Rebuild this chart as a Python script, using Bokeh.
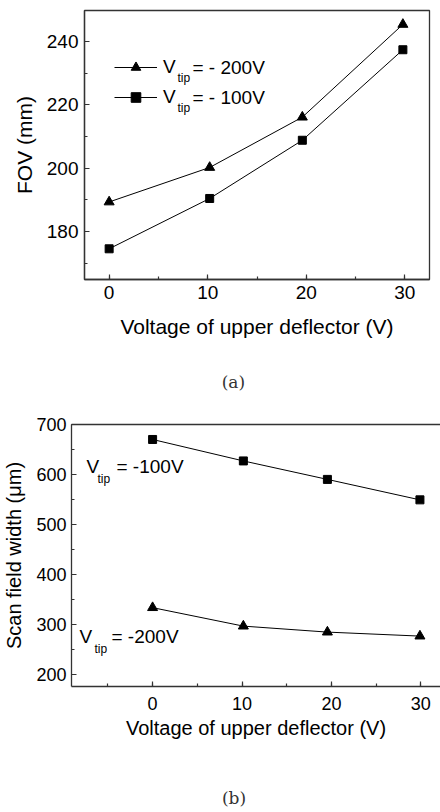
from bokeh.plotting import figure
from bokeh.models import (Range1d, SingleIntervalTicker, FixedTicker, LinearAxis,
                          Label, Legend, LegendItem)
from bokeh.embed import file_html
from bokeh.resources import INLINE

# ---------------- data ----------------
# (a) FOV vs voltage of upper deflector
voltage_a = [0, 10.2, 19.6, 29.8]
fov_tip200 = [189.3, 200.2, 216.1, 245.4]
fov_tip100 = [174.5, 190.4, 208.8, 237.4]

# (b) scan field width vs voltage of upper deflector
voltage_b = [0, 10.15, 19.55, 29.9]
scan_tip100 = [670, 627, 590, 549]
scan_tip200 = [333, 296, 284, 276]

FONT = "Liberation Sans"
SERIF = "DejaVu Serif"
AX = "#333333"

# horizontal anchor (x-axis units) of the sub-figure captions
CAPTION_X_A = 12.6
CAPTION_X_B = 9.1


def style_axis(ax, tick_px, label_px, label_standoff, axis_label_standoff):
    ax.axis_line_color = AX
    ax.axis_line_width = 1.3
    ax.major_tick_in = 5
    ax.major_tick_out = 0
    ax.minor_tick_in = 3
    ax.minor_tick_out = 0
    ax.major_tick_line_color = AX
    ax.minor_tick_line_color = AX
    ax.major_tick_line_width = 1.2
    ax.minor_tick_line_width = 1.2
    ax.major_label_text_font = FONT
    ax.major_label_text_font_size = tick_px
    ax.major_label_text_color = "black"
    ax.major_label_standoff = label_standoff
    ax.axis_label_text_font = FONT
    ax.axis_label_text_font_size = label_px
    ax.axis_label_text_font_style = "normal"
    ax.axis_label_text_color = "black"
    ax.axis_label_standoff = axis_label_standoff


def caption_axis(xpos, text, standoff):
    return LinearAxis(ticker=FixedTicker(ticks=[xpos]),
                      major_label_overrides={xpos: text},
                      axis_line_color=None, major_tick_line_color=None,
                      minor_tick_line_color=None, major_tick_in=0, major_tick_out=0,
                      minor_tick_in=0, minor_tick_out=0,
                      major_label_standoff=standoff,
                      major_label_text_font=SERIF,
                      major_label_text_font_size="17px",
                      major_label_text_color="#333333")


# ---------------- (a) ----------------
p1 = figure(width=432, height=400,
            x_range=Range1d(-2.5, 32.5), y_range=Range1d(164.8, 249.8),
            output_backend="svg", toolbar_location=None,
            min_border_left=84, min_border_right=3,
            min_border_top=10, min_border_bottom=121)
p1.xgrid.visible = False
p1.ygrid.visible = False
p1.outline_line_color = AX
p1.outline_line_width = 1.3
p1.outline_line_alpha = 1
p1.xaxis.ticker = SingleIntervalTicker(interval=10, num_minor_ticks=2)
p1.yaxis.ticker = SingleIntervalTicker(interval=20, num_minor_ticks=2)
p1.xaxis.axis_label = "Voltage of upper deflector (V)"
p1.yaxis.axis_label = "FOV (mm)"
style_axis(p1.xaxis[0], "19px", "21px", 6, 13)
style_axis(p1.yaxis[0], "19px", "21px", 6, 8)

l200 = p1.line(voltage_a, fov_tip200, line_color="black", line_width=1)
s200 = p1.scatter(voltage_a, fov_tip200, marker="triangle", size=10,
                  fill_color="black", line_color="black")
l100 = p1.line(voltage_a, fov_tip100, line_color="black", line_width=1)
s100 = p1.scatter(voltage_a, fov_tip100, marker="square", size=8,
                  fill_color="black", line_color="black")

legend = Legend(items=[LegendItem(label="V", renderers=[l200, s200]),
                       LegendItem(label="V", renderers=[l100, s100])],
                location=(30, 170), orientation="vertical",
                background_fill_alpha=0, border_line_color=None,
                padding=0, margin=0, spacing=6,
                glyph_width=43, glyph_height=24, label_height=24,
                label_standoff=6, label_text_font=FONT,
                label_text_font_size="19px", label_text_color="black")
p1.add_layout(legend)

for yy, txt in [(212, "= - 200V"), (182, "= - 100V")]:
    p1.add_layout(Label(x=108, y=yy, x_units="screen", y_units="screen", text=txt,
                        text_font=FONT, text_font_size="19px",
                        text_baseline="middle", text_color="black"))
    p1.add_layout(Label(x=93, y=yy - 10, x_units="screen", y_units="screen", text="tip",
                        text_font=FONT, text_font_size="12px",
                        text_baseline="middle", text_color="black"))

p1.add_layout(caption_axis(CAPTION_X_A, "(a)", 31), "below")

# ---------------- (b) ----------------
p2 = figure(width=440, height=412,
            x_range=Range1d(-9.07, 32.2), y_range=Range1d(175, 700),
            output_backend="svg", toolbar_location=None,
            min_border_left=70, min_border_right=0,
            min_border_top=24, min_border_bottom=126)
p2.xgrid.visible = False
p2.ygrid.visible = False
p2.outline_line_color = None
p2.xaxis.ticker = SingleIntervalTicker(interval=10, num_minor_ticks=2)
p2.yaxis.ticker = SingleIntervalTicker(interval=100, num_minor_ticks=2)
p2.xaxis.axis_label = "Voltage of upper deflector (V)"
p2.yaxis.axis_label = "Scan field width (μm)"
style_axis(p2.xaxis[0], "18px", "20px", 10, 4)
style_axis(p2.yaxis[0], "18px", "20px", 5, 8)

top_axis = LinearAxis(ticker=FixedTicker(ticks=[]), axis_line_color=AX,
                      axis_line_width=1.3, major_tick_in=0, major_tick_out=0,
                      minor_tick_in=0, minor_tick_out=0)
p2.add_layout(top_axis, "above")

p2.line(voltage_b, scan_tip100, line_color="black", line_width=1)
p2.scatter(voltage_b, scan_tip100, marker="square", size=8,
           fill_color="black", line_color="black")
p2.line(voltage_b, scan_tip200, line_color="black", line_width=1)
p2.scatter(voltage_b, scan_tip200, marker="triangle", size=10,
           fill_color="black", line_color="black")

for vx, vy, tx, eqx, txt in [(15, 220, 26, 45, "= -100V"), (8, 50, 23, 40, "= -200V")]:
    p2.add_layout(Label(x=vx, y=vy, x_units="screen", y_units="screen", text="V",
                        text_font=FONT, text_font_size="19px",
                        text_baseline="middle", text_color="black"))
    p2.add_layout(Label(x=tx, y=vy - 12, x_units="screen", y_units="screen", text="tip",
                        text_font=FONT, text_font_size="12px",
                        text_baseline="middle", text_color="black"))
    p2.add_layout(Label(x=eqx, y=vy, x_units="screen", y_units="screen", text=txt,
                        text_font=FONT, text_font_size="19px",
                        text_baseline="middle", text_color="black"))

p2.add_layout(caption_axis(CAPTION_X_B, "(b)", 46), "below")

open("out.html", "w").write(file_html([p1, p2], INLINE))
